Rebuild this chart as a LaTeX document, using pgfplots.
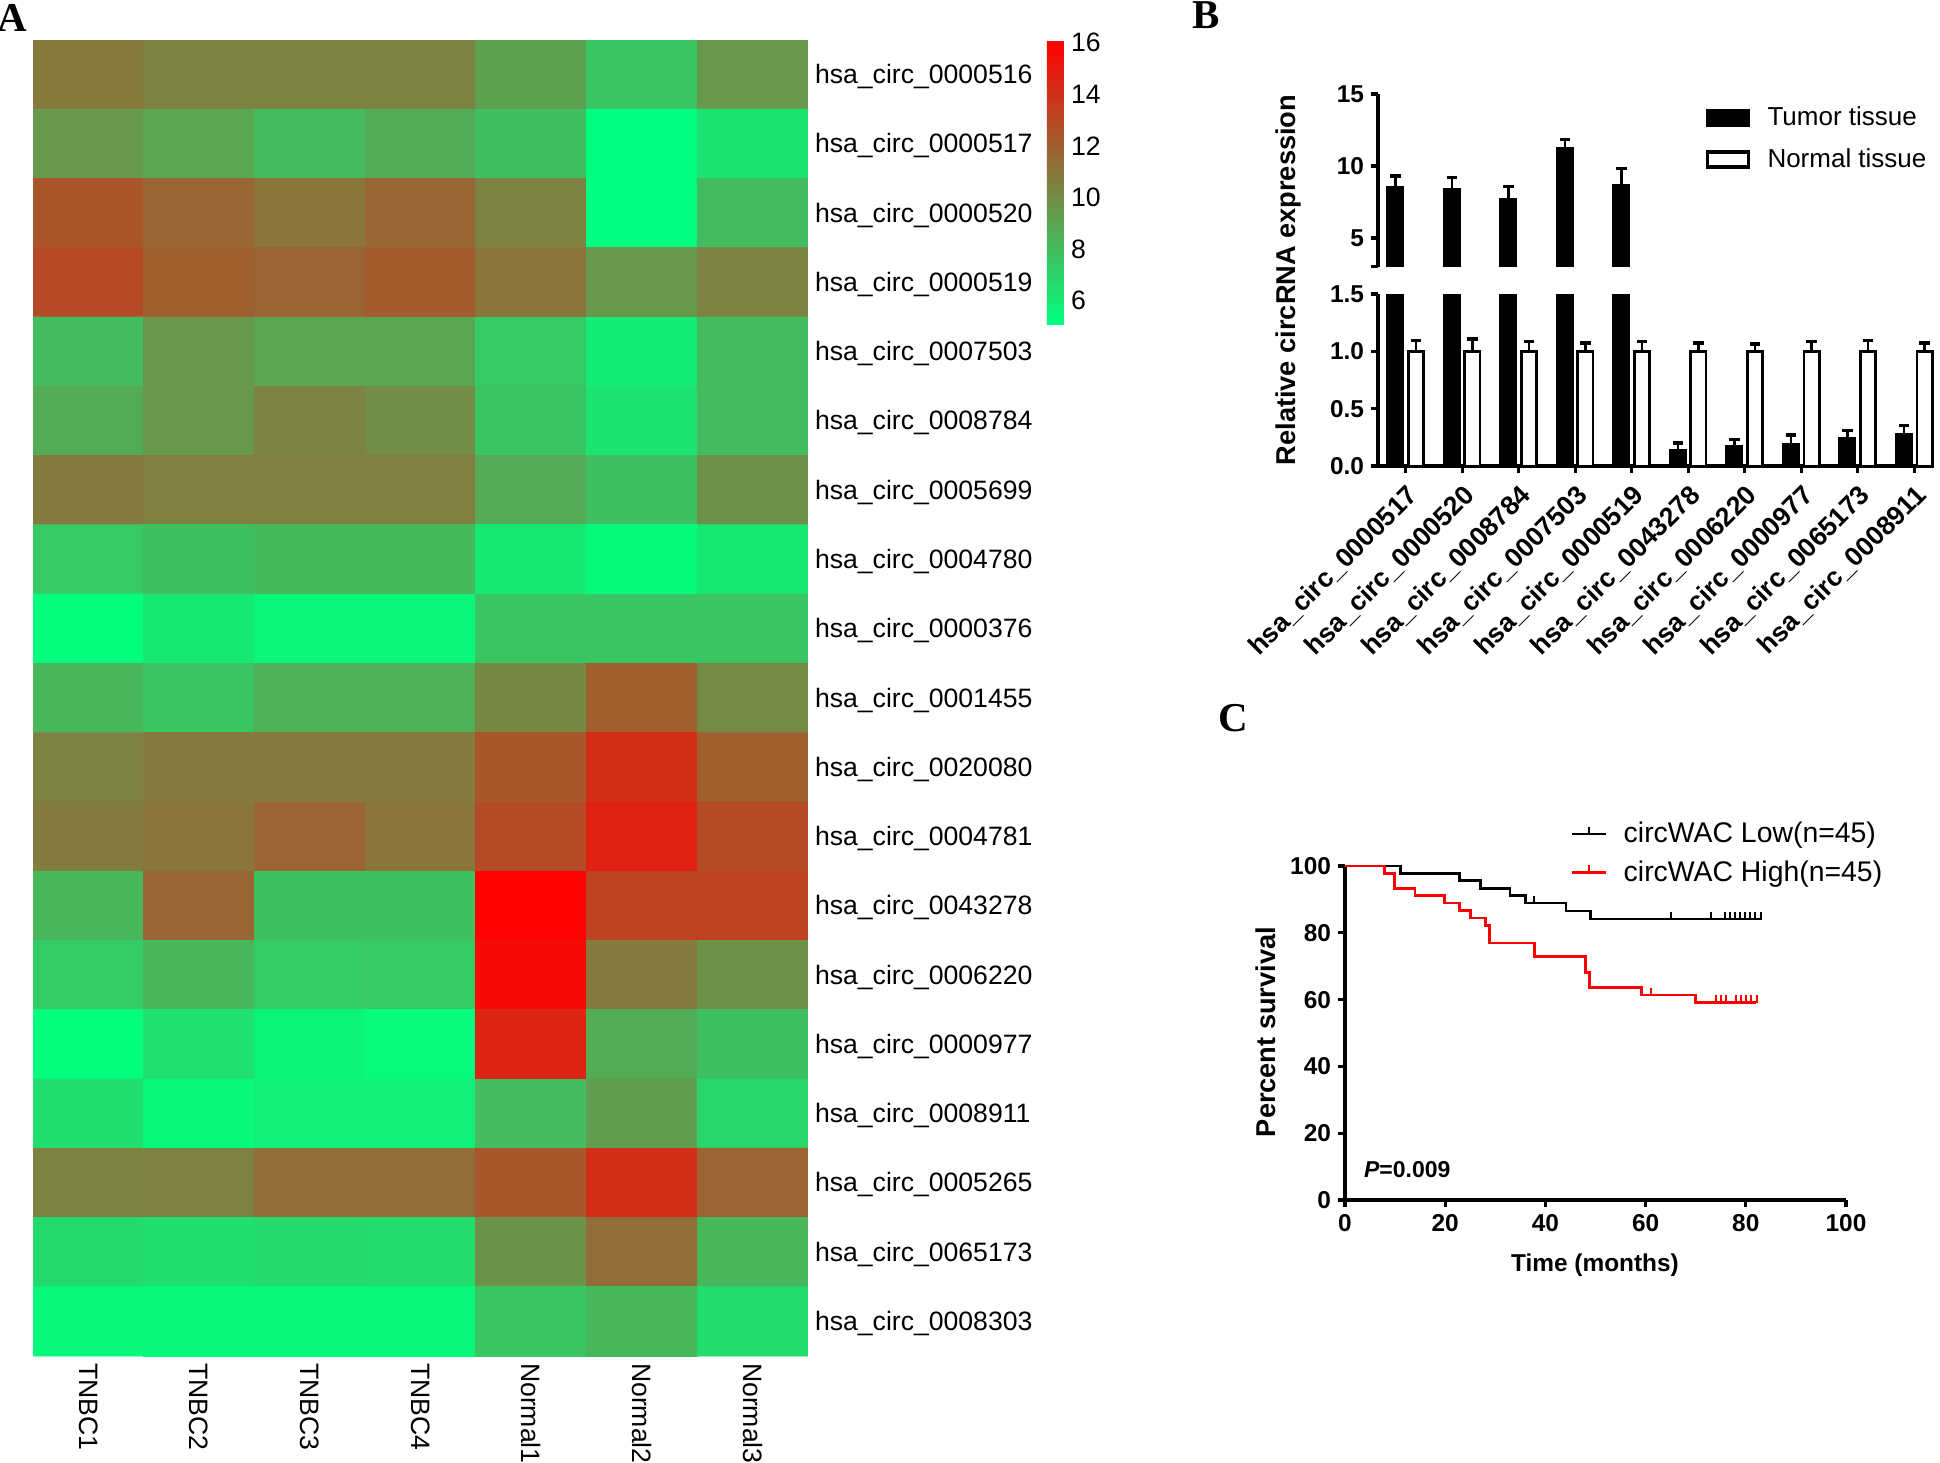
\documentclass[border=0pt]{standalone}
\usepackage{fontspec}
\setmainfont{Liberation Sans}
\newfontfamily\serifbf{Liberation Serif}
\usepackage{pgfplots}
\pgfplotsset{compat=1.18}
\pgfdeclareplotmark{cens}{\pgfpathmoveto{\pgfpointorigin}\pgfpathlineto{\pgfpoint{0pt}{3.7pt}}\pgfusepathqstroke}
\newcommand{\fA}{\fontsize{13.3}{16}\selectfont}
\newcommand{\fT}{\bfseries\fontsize{12.2}{14}\selectfont}
\pgfplotsset{every axis/.append style={/pgf/number format/assume math mode=true}}
\begin{document}
\begin{tikzpicture}
\path[use as bounding box] (0pt,0pt) rectangle (970pt,-731.5pt);
\node[font=\serifbf\bfseries\fontsize{20.5}{24}\selectfont] at (6.25pt,-8.75pt) {A};
\node[font=\serifbf\bfseries\fontsize{20.5}{24}\selectfont] at (603pt,-7.5pt) {B};
\node[font=\serifbf\bfseries\fontsize{20.5}{24}\selectfont] at (616.5pt,-359pt) {C};

% ---------------- Panel A: heatmap
\begin{axis}[
  at={(16.5pt,-20pt)}, anchor=north west,
  width=387.5pt, height=658pt, scale only axis,
  xmin=-0.5, xmax=6.5, ymin=-0.5, ymax=18.5, y dir=reverse,
  enlargelimits=false,
  axis line style={draw=none},
  major tick length=0pt,
  xtick={0,...,6}, xticklabels={TNBC1,TNBC2,TNBC3,TNBC4,Normal1,Normal2,Normal3},
  xticklabel style={rotate=-90, anchor=west, font=\fA},
  ytick={0,...,18},
  yticklabels={hsa\_circ\_0000516,hsa\_circ\_0000517,hsa\_circ\_0000520,hsa\_circ\_0000519,hsa\_circ\_0007503,hsa\_circ\_0008784,hsa\_circ\_0005699,hsa\_circ\_0004780,hsa\_circ\_0000376,hsa\_circ\_0001455,hsa\_circ\_0020080,hsa\_circ\_0004781,hsa\_circ\_0043278,hsa\_circ\_0006220,hsa\_circ\_0000977,hsa\_circ\_0008911,hsa\_circ\_0005265,hsa\_circ\_0065173,hsa\_circ\_0008303},
  yticklabel pos=right,
  yticklabel style={anchor=west, font=\fA, yshift=-1pt},
  colormap={rg}{rgb255=(0,255,128) rgb255=(255,0,0)},
  point meta min=5.1, point meta max=16.1,
  colorbar,
  colorbar shift/.style={},
  colorbar style={at={(parent axis.north east)}, anchor=north west, xshift=119.5pt,
    width=8.5pt, height=142pt, scale only axis,
    ytick={6,8,...,16}, yticklabel style={font=\fA},
    axis line style={draw=none}, major tick length=0pt},
]
\addplot[matrix plot*, mesh/cols=7, point meta=explicit] table[meta=c] {
x y c
0 0 10.9
1 0 10.4
2 0 10.4
3 0 10.4
4 0 9.1
5 0 7.6
6 0 9.5
0 1 9.5
1 1 8.9
2 1 8.0
3 1 8.7
4 1 7.9
5 1 5.1
6 1 6.3
0 2 12.4
1 2 11.6
2 2 11.0
3 2 11.6
4 2 10.4
5 2 5.1
6 2 8.0
0 3 12.9
1 3 11.9
2 3 11.7
3 3 12.1
4 3 11.0
5 3 9.5
6 3 10.4
0 4 8.0
1 4 9.5
2 4 8.9
3 4 8.9
4 4 7.4
5 4 5.9
6 4 8.0
0 5 8.7
1 5 9.5
2 5 10.4
3 5 10.0
4 5 7.6
5 5 6.3
6 5 8.0
0 6 10.8
1 6 10.6
2 6 10.6
3 6 10.6
4 6 8.8
5 6 7.8
6 6 9.8
0 7 7.4
1 7 7.8
2 7 8.1
3 7 8.1
4 7 6.1
5 7 5.35
6 7 6.1
0 8 5.2
1 8 6.1
2 8 5.5
3 8 5.5
4 8 7.6
5 8 7.6
6 8 7.6
0 9 8.2
1 9 7.6
2 9 8.5
3 9 8.5
4 9 10.2
5 9 11.9
6 9 10.1
0 10 10.4
1 10 10.8
2 10 10.8
3 10 10.8
4 10 12.3
5 10 14.1
6 10 11.9
0 11 10.7
1 11 11.0
2 11 11.7
3 11 11.0
4 11 12.8
5 11 14.6
6 11 12.8
0 12 8.2
1 12 11.6
2 12 7.8
3 12 7.8
4 12 16.0
5 12 13.2
6 12 13.2
0 13 7.3
1 13 8.2
2 13 7.3
3 13 7.4
4 13 15.6
5 13 10.8
6 13 9.8
0 14 5.2
1 14 6.4
2 14 5.6
3 14 5.3
4 14 14.5
5 14 8.7
6 14 7.8
0 15 6.5
1 15 5.4
2 15 5.8
3 15 5.8
4 15 8.0
5 15 9.3
6 15 6.9
0 16 10.4
1 16 10.5
2 16 11.3
3 16 11.3
4 16 12.3
5 16 14.1
6 16 11.7
0 17 6.7
1 17 6.5
2 17 6.7
3 17 6.6
4 17 9.7
5 17 11.3
6 17 8.2
0 18 5.4
1 18 5.4
2 18 5.4
3 18 5.4
4 18 7.6
5 18 8.2
6 18 6.6
};
\end{axis}

% ---------------- Panel B: upper segment
\begin{axis}[
  at={(689pt,-47pt)}, anchor=north west,
  width=278pt, height=86.35pt, scale only axis,
  xmin=0.51, xmax=10.35, ymin=3, ymax=15,
  axis x line=none, axis y line*=left,
  axis line style={line width=1.6pt},
  ytick={5,10,15}, extra y ticks={3}, extra y tick labels={},
  tick align=outside, major tick length=3.5pt,
  tick style={line width=1.6pt, black},
  yticklabel style={font=\fT},
  legend image code/.code={\draw[#1, line width=1.6pt] (0pt,-3.75pt) rectangle (20.5pt,3.75pt); \path[draw=none, fill=none] (0pt,0pt) -- (28pt,0pt);},
  legend style={at={(axis cs:6.2,14.7)}, anchor=north west, draw=none, fill=none,
    font=\fontsize{13}{15}\selectfont, row sep=6pt},
  legend cell align=left,
]
\addplot[ybar, bar width=7.6pt, bar shift=0pt, fill=black, draw=black, line width=1.4pt, forget plot,
  error bars/.cd, y dir=plus, y explicit,
  error bar style={line width=1.4pt, black},
  error mark options={rotate=90, mark size=2.6pt, line width=1.6pt, black}]
  table[x=x, y=y, y error=e] {
x y e
0.818 8.5 0.8
1.818 8.35 0.85
2.818 7.7 0.9
3.818 11.25 0.6
4.818 8.65 1.2
};
\addlegendimage{fill=black, draw=black}
\addlegendentry{Tumor tissue}
\addlegendimage{fill=white, draw=black}
\addlegendentry{Normal tissue}
\end{axis}

% ---------------- Panel B: lower segment
\begin{axis}[
  at={(689pt,-233pt)}, anchor=south west,
  width=278pt, height=86pt, scale only axis,
  xmin=0.51, xmax=10.35, ymin=0, ymax=1.5,
  axis x line*=bottom, axis y line*=left,
  axis line style={line width=1.6pt},
  ytick={0,0.5,1,1.5},
  yticklabel style={font=\fT, /pgf/number format/fixed, /pgf/number format/fixed zerofill, /pgf/number format/precision=1},
  xtick={1,...,10},
  xticklabels={hsa\_circ\_0000517,hsa\_circ\_0000520,hsa\_circ\_0008784,hsa\_circ\_0007503,hsa\_circ\_0000519,hsa\_circ\_0043278,hsa\_circ\_0006220,hsa\_circ\_0000977,hsa\_circ\_0065173,hsa\_circ\_0008911},
  xticklabel style={rotate=45, anchor=north east, font=\bfseries\fontsize{13.3}{15}\selectfont},
  tick align=outside, major tick length=3.5pt,
  tick style={line width=1.6pt, black},
]
\addplot[ybar, bar width=7.6pt, bar shift=0pt, fill=black, draw=black, line width=1.4pt,
  error bars/.cd, y dir=plus, y explicit,
  error bar style={line width=1.4pt, black},
  error mark options={rotate=90, mark size=2.6pt, line width=1.6pt, black}]
  table[x=x, y=y, y error=e] {
x y e
0.818 8.5 0.8
1.818 8.35 0.85
2.818 7.7 0.9
3.818 11.25 0.6
4.818 8.65 1.2
5.818 0.14 0.06
6.818 0.17 0.06
7.818 0.19 0.08
8.818 0.245 0.065
9.818 0.275 0.075
};
\addplot[ybar, bar width=7.6pt, bar shift=0pt, fill=white, draw=black, line width=1.4pt,
  error bars/.cd, y dir=plus, y explicit,
  error bar style={line width=1.4pt, black},
  error mark options={rotate=90, mark size=2.6pt, line width=1.6pt, black}]
  table[x=x, y=y, y error=e] {
x y e
1.182 1.0 0.098
2.182 1.0 0.107
3.182 1.0 0.084
4.182 1.0 0.072
5.182 1.0 0.084
6.182 1.0 0.072
7.182 1.0 0.064
8.182 1.0 0.084
9.182 1.0 0.098
10.182 1.0 0.072
};
\end{axis}
\node[rotate=90, font=\bfseries\fontsize{13.6}{16}\selectfont] at (644pt,-140pt) {Relative circRNA expression};

% ---------------- Panel C: Kaplan-Meier
\begin{axis}[
  at={(672.5pt,-600pt)}, anchor=south west,
  width=250.5pt, height=167pt, scale only axis,
  xmin=0, xmax=100, ymin=0, ymax=100,
  axis lines*=left,
  axis line style={line width=1.6pt},
  xtick={0,20,...,100}, ytick={0,20,...,100},
  tick align=outside, major tick length=3.5pt,
  tick style={line width=1.6pt, black},
  ticklabel style={font=\fT},
  clip=false,
  legend image code/.code={\draw[#1, line width=1.3pt] (0pt,0pt) -- (17pt,0pt); \draw[#1, line width=1.3pt] (8.5pt,0pt) -- (8.5pt,3.7pt); \path[draw=none, fill=none] (0pt,0pt) -- (23.8pt,0pt);},
  legend style={at={(axis cs:43.8,115.6)}, anchor=north west, draw=none, fill=none,
    font=\fontsize{14.2}{16}\selectfont, row sep=3.5pt},
  legend cell align=left,
]
\addplot[const plot, black, line width=1.3pt, forget plot] coordinates {
(0,100) (11.1,97.8) (22.9,95.6) (27,93.3) (32.9,91.1) (36,88.9) (44.1,86.5) (49,84.1) (83.2,84.1)};
\addplot[only marks, mark=cens, black, mark options={line width=1.1pt}, forget plot] coordinates {
(37.8,88.9) (65,84.1) (73,84.1) (75.8,84.1) (76.8,84.1) (77.8,84.1) (78.9,84.1) (79.9,84.1) (80.9,84.1) (81.9,84.1) (83,84.1)};
\addplot[const plot, red, line width=1.3pt, forget plot] coordinates {
(0,100) (7.9,97.8) (9.9,93.3) (14,91.1) (19.9,88.9) (22.9,86.7) (25,84.4) (28,82.2) (28.8,77.0) (37.8,72.9) (48,68.1) (48.8,63.6) (59.2,61.4) (70,59.1) (82,59.1)};
\addplot[only marks, mark=cens, red, mark options={line width=1.1pt}, forget plot] coordinates {
(61,61.4) (74,59.1) (75,59.1) (76.1,59.1) (78.1,59.1) (79.1,59.1) (80.1,59.1) (81.1,59.1) (82.2,59.1)};
\addlegendimage{black}
\addlegendentry{circWAC Low(n=45)}
\addlegendimage{red}
\addlegendentry{circWAC High(n=45)}
\node[anchor=west, font=\bfseries\fontsize{11.5}{13}\selectfont] at (axis cs:2.4,9) {\textit{P}=0.009};
\end{axis}
\node[rotate=90, font=\bfseries\fontsize{13.6}{16}\selectfont] at (633pt,-516pt) {Percent survival};
\node[font=\bfseries\fontsize{12.2}{14}\selectfont] at (797.5pt,-632.5pt) {Time (months)};
\end{tikzpicture}
\end{document}
